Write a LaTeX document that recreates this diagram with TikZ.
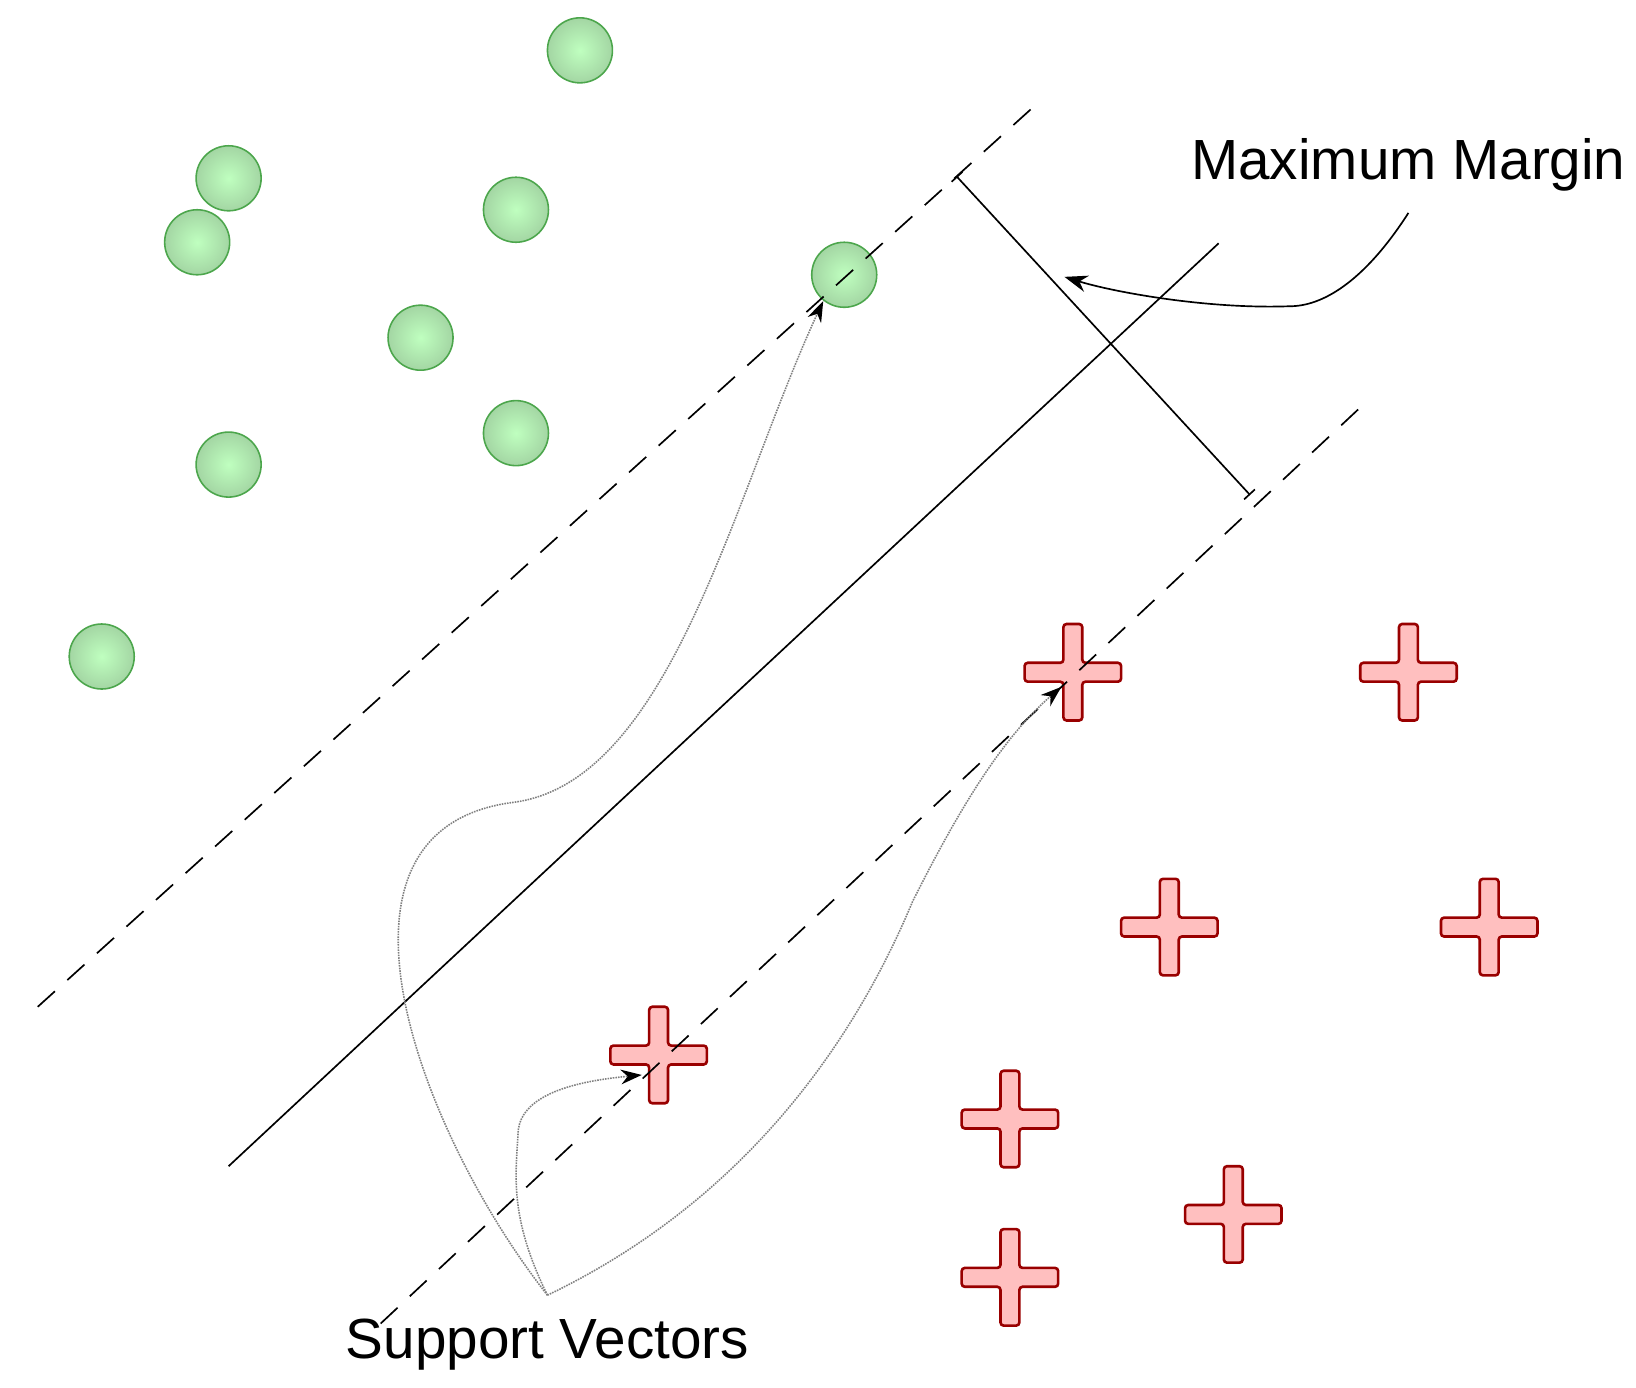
\documentclass[tikz,border=0pt]{standalone}
\usepackage{fontspec}
\setmainfont{Liberation Sans}
\usetikzlibrary{arrows.meta}
\begin{document}
\begin{tikzpicture}[x=1pt,y=-1pt,
  gdot/.style={circle,draw=green!50!black!70,line width=1.5pt,inner color=green!25!white,outer color=green!55!black!45!white!80,minimum size=62pt,inner sep=0},
  cross/.style={draw=red!60!black,line width=2.5pt,fill=red!25!white,rounded corners=3pt},
  dline/.style={dash pattern=on 22pt off 16pt,line width=1.6pt},
  sv/.style={densely dotted,gray,line width=1.5pt,-{Stealth[black,length=20pt,width=14pt]}},
  lbl/.style={font=\fontsize{54}{60}\selectfont,inner sep=0}]
\useasboundingbox (0,0) rectangle (1560,1323);
\foreach \n/\x/\y in {g1/553/48,g2/218/170,g3/188/231,g4/492/200,g5/805/262,g6/401/322,g7/492/413,g8/218/443,g9/97/626}
  \node[gdot] (\n) at (\x,\y) {};
\foreach \n/\x/\y in {r1/1023/641,r2/1343/641,r3/628/1006,r4/1115/884,r5/1420/884,r6/963/1067,r7/1176/1158,r8/963/1218}{
  \coordinate (\n) at (\x,\y);
  \draw[cross] ([shift={(-9,-46)}]\n) -- ++(18,0) -- ++(0,37) -- ++(37,0) -- ++(0,18) -- ++(-37,0) -- ++(0,37) -- ++(-18,0) -- ++(0,-37) -- ++(-37,0) -- ++(0,-18) -- ++(37,0) -- cycle;
}
\coordinate (u1) at (36,960); \coordinate (u2) at (992,96);
\coordinate (m1) at (218,1112); \coordinate (m2) at (1162,232);
\coordinate (l1) at (363,1262); \coordinate (l2) at (1303,383);
\draw[dline] (u1) -- (u2);
\draw[dline] (l1) -- (l2);
\draw[line width=1.6pt] (m1) -- (m2);
\coordinate (b1) at (912,168); \coordinate (b2) at (1192,472);
\draw[line width=1.6pt,{Bar[width=14pt]}-{Bar[width=14pt]}] (b1) -- (b2);
\node[lbl] (mm) at (1343,157) {Maximum Margin};
\coordinate (mmt) at (1343,203);
\coordinate (bm) at (1015,264);
\draw[line width=1.6pt,-{Stealth[length=22pt,width=16pt]}] (mmt) .. controls (1300,270) and (1260,292) .. (1230,292) .. controls (1150,295) and (1060,278) .. (bm);
\node[lbl] (svl) at (522,1282) {Support Vectors};
\coordinate (s0) at (522,1235);
\draw[sv] (s0) .. controls (400,1080) and (290,790) .. (490,765) .. controls (640,745) and (700,470) .. (785,287);
\draw[sv] (s0) .. controls (485,1160) and (492,1120) .. (494,1080) .. controls (496,1040) and (560,1030) .. (612,1025);
\draw[sv] (s0) .. controls (720,1140) and (820,980) .. (870,860) .. controls (920,760) and (960,700) .. (1012,655);
\end{tikzpicture}
\end{document}
